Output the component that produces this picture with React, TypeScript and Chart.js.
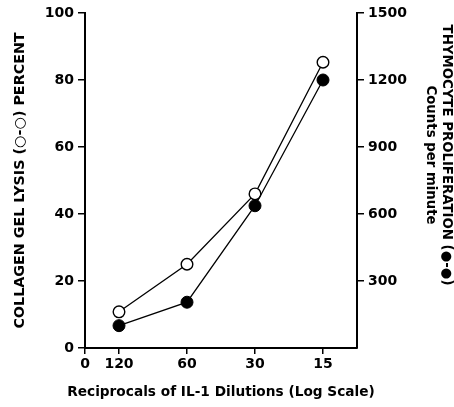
import React, { useEffect, useRef } from "react";
import { Chart, registerables } from "chart.js";

Chart.register(...registerables);

const xTickLabels = ["0", "120", "60", "30", "15"];
const xTickPositions = [-0.5, 0, 1, 2, 3];
const dilutionPositions = [0, 1, 2, 3];
const collagenLysis = [10.8, 25.0, 46.0, 85.3];
const thymocyteCpm = [100, 205, 637, 1200];
const leftTicks = [0, 20, 40, 60, 80, 100];
const rightTicks = [300, 600, 900, 1200, 1500];
const xTitle = "Reciprocals of IL-1 Dilutions (Log Scale)";

const tickFont = { family: "DejaVu Sans", weight: "bold" as const, size: 14 };
const titleFont = { family: "DejaVu Sans", weight: "bold" as const, size: 14.3 };
const pad = "\u00a0".repeat(11);

const xTitlePlugin = {
  id: "xTitlePlugin",
  afterDraw(chart: any) {
    const { ctx, chartArea, height } = chart;
    ctx.save();
    ctx.font = 'bold 13.7px "DejaVu Sans"';
    ctx.fillStyle = "#000";
    ctx.textAlign = "center";
    ctx.textBaseline = "middle";
    ctx.fillText(xTitle, (chartArea.left + chartArea.right) / 2, height - 15);
    ctx.restore();
  },
};

export default function App() {
  const ref = useRef<HTMLCanvasElement | null>(null);
  useEffect(() => {
    if (!ref.current) return;
    const chart = new Chart(ref.current, {
      type: "line",
      data: {
        datasets: [
          {
            label: "Collagen gel lysis",
            data: dilutionPositions.map((x, i) => ({ x, y: collagenLysis[i] })),
            yAxisID: "y",
            borderColor: "#000",
            borderWidth: 1.3,
            pointBackgroundColor: "#fff",
            pointBorderColor: "#000",
            pointBorderWidth: 1.4,
            pointRadius: 5.8,
            fill: false,
            order: 2,
          },
          {
            label: "Thymocyte proliferation",
            data: dilutionPositions.map((x, i) => ({ x, y: thymocyteCpm[i] })),
            yAxisID: "y2",
            borderColor: "#000",
            borderWidth: 1.3,
            pointBackgroundColor: "#000",
            pointBorderColor: "#000",
            pointBorderWidth: 1,
            pointRadius: 6,
            fill: false,
            order: 1,
          },
        ],
      },
      options: {
        animation: false,
        responsive: false,
        maintainAspectRatio: false,
        layout: { padding: { top: 13, left: 0, right: 0, bottom: 0 } },
        plugins: { legend: { display: false }, tooltip: { enabled: false } },
        scales: {
          x: {
            type: "linear",
            min: -0.5,
            max: 3.5,
            afterBuildTicks: (s: any) => {
              s.ticks = xTickPositions.map((v) => ({ value: v }));
            },
            afterFit: (s: any) => {
              s.height = 59;
            },
            ticks: {
              color: "#000",
              font: tickFont,
              padding: 2,
              maxRotation: 0,
              autoSkip: false,
              callback: (v: any) => {
                const i = xTickPositions.indexOf(Number(v));
                return i >= 0 ? xTickLabels[i] : "";
              },
            },
            grid: { drawOnChartArea: false, drawTicks: true, tickLength: 6, color: "#000", lineWidth: 1.5 },
            border: { color: "#000", width: 2 },
            title: { display: false },
          },
          y: {
            type: "linear",
            position: "left",
            min: 0,
            max: 100,
            afterBuildTicks: (s: any) => {
              s.ticks = leftTicks.map((v) => ({ value: v }));
            },
            afterFit: (s: any) => {
              s.width = 85;
            },
            ticks: { color: "#000", font: tickFont, padding: 4 },
            grid: { drawOnChartArea: false, drawTicks: true, tickLength: 7, color: "#000", lineWidth: 1.5 },
            border: { color: "#000", width: 2 },
            title: {
              display: true,
              text: "COLLAGEN GEL LYSIS (○-○) PERCENT",
              color: "#000",
              font: titleFont,
              padding: { top: 12, bottom: 4 },
            },
          },
          y2: {
            type: "linear",
            position: "right",
            min: 0,
            max: 1500,
            afterBuildTicks: (s: any) => {
              s.ticks = rightTicks.map((v) => ({ value: v }));
            },
            afterFit: (s: any) => {
              s.width = 97;
            },
            ticks: { color: "#000", font: tickFont, padding: 4, callback: (v: any) => String(v) },
            grid: { drawOnChartArea: false, drawTicks: true, tickLength: 7, color: "#000", lineWidth: 1.5 },
            border: { color: "#000", width: 2 },
            title: {
              display: true,
              text: ["THYMOCYTE PROLIFERATION (●-●)" + pad, "Counts per minute" + pad],
              color: "#000",
              font: { ...titleFont, size: 13.3 },
              padding: { top: 0, bottom: 2 },
            },
          },
        },
      },
      plugins: [xTitlePlugin],
    });
    return () => chart.destroy();
  }, []);
  return (
    <div style={{ position: "fixed", left: 0, top: 0, width: 454, height: 407, background: "#fff" }}>
      <canvas ref={ref} width={454} height={407} style={{ width: 454, height: 407 }} />
    </div>
  );
}
